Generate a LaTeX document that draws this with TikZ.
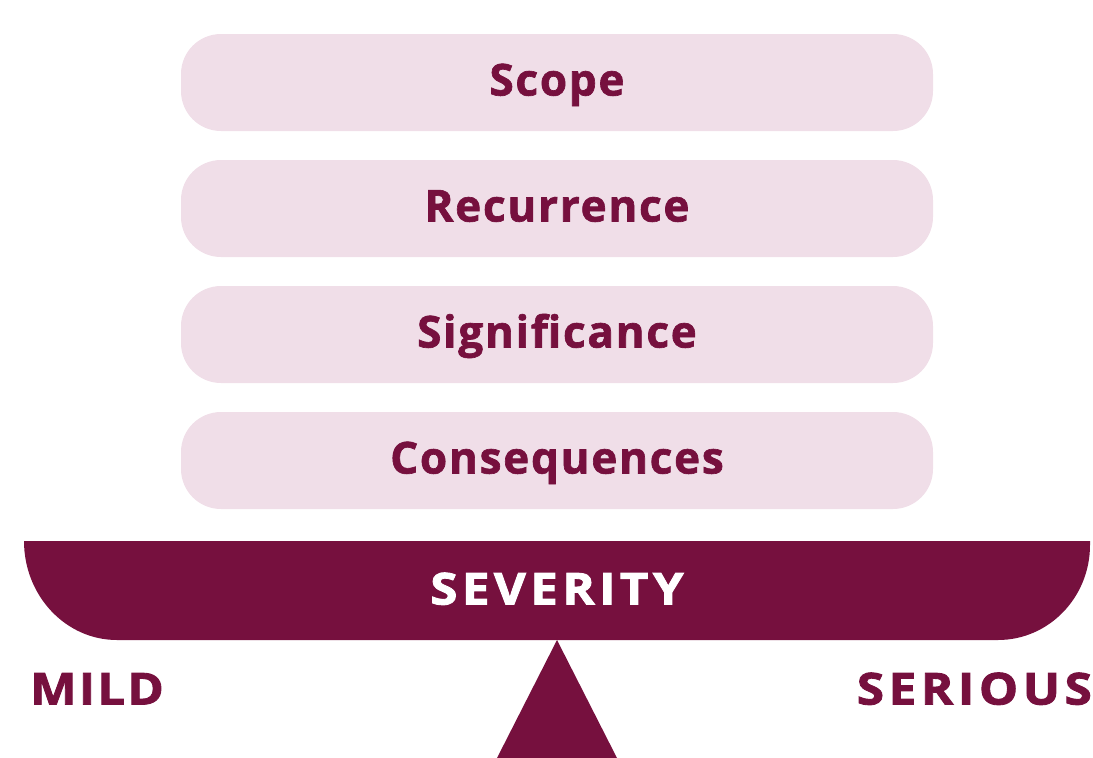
\documentclass[tikz,border=0pt]{standalone}
\usepackage{fontspec}
\setmainfont{Open Sans}
\definecolor{maroon}{HTML}{76103E}
\definecolor{pinkbg}{HTML}{F0DEE8}
\newfontfamily\lowfont[FakeBold=1.5,LetterSpace=4]{Open Sans}
\newfontfamily\sevfont[FakeBold=2,FakeStretch=1.12,LetterSpace=10]{Open Sans}
\newfontfamily\serfont[FakeBold=2,FakeStretch=1.12,LetterSpace=10.5]{Open Sans}
\newfontfamily\mildfont[FakeBold=2,FakeStretch=1.12,LetterSpace=5]{Open Sans}
\tikzset{
  pill/.style={fill=pinkbg, rounded corners=40pt},
  pilltext/.style={text=maroon, font=\lowfont\bfseries\fontsize{44}{44}\selectfont, inner sep=0pt, anchor=base},
  bigtext/.style={font=\bfseries\fontsize{44}{44}\selectfont, inner sep=0pt}
}
\begin{document}
\begin{tikzpicture}[x=1pt,y=-1pt]
\useasboundingbox (0,0) rectangle (1093,758);
\foreach \y/\t/\n in {34/Scope/scope,160/Recurrence/rec,286/Significance/sig,412/Consequences/cons}{
  \fill[pill] (181,\y) rectangle (933,\y+97);
  \node[pilltext] (\n) at (557,\y+61.5) {\t};
}
% beam
\fill[maroon] (24,541) -- (1090,541) -- (1090,545) arc[start angle=0,end angle=90,x radius=92pt,y radius=-95pt] -- (117,640) arc[start angle=90,end angle=180,x radius=93pt,y radius=-99pt] -- cycle;
\node[bigtext,text=white,anchor=base] (sev) at (557,604.5) {\sevfont\bfseries SEVERITY};
% fulcrum
\coordinate (apex) at (557,640);
\fill[maroon] (apex) -- (617,758) -- (497,758) -- cycle;
\node[bigtext,text=maroon,anchor=base west] (mild) at (30,704.5) {\mildfont\bfseries MILD};
\node[bigtext,text=maroon,anchor=base east] (serious) at (1092,704.5) {\serfont\bfseries SERIOUS};
\end{tikzpicture}
\end{document}
